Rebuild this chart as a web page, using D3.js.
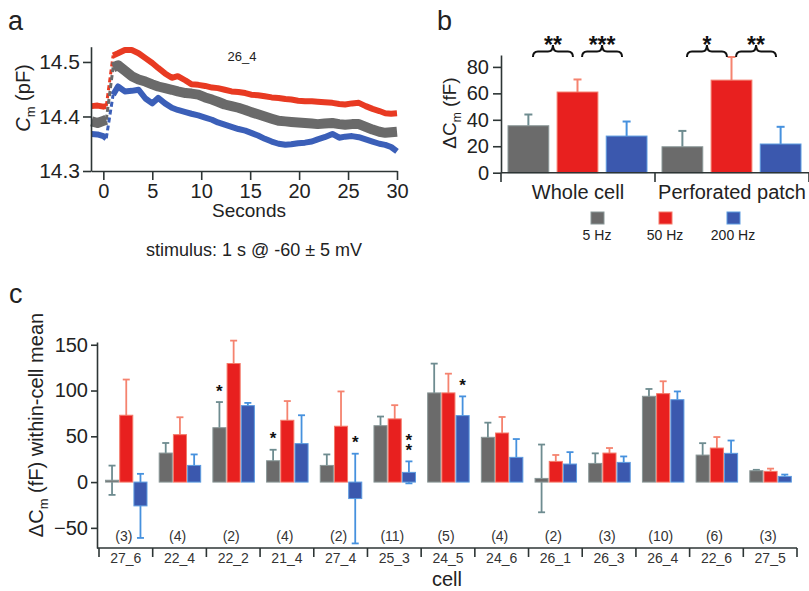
<!DOCTYPE html>
<html>
<head>
<meta charset="utf-8">
<script src="https://cdn.jsdelivr.net/npm/d3@7"></script>
<style>
  body { margin: 0; background: #fff; }
  svg { display: block; font-family: "Liberation Sans", Arial, sans-serif; }
  .axis path, .axis line { stroke: #2d3535; stroke-width: 1.6px; }
  .axis text { fill: #222; font-family: "Liberation Sans", Arial, sans-serif; }
</style>
</head>
<body>
<svg id="fig" width="809" height="591"></svg>
<script>
// ---- panel a: Cm traces (cell 26_4) ----
var traceT = [-1.2, -0.6, 0, 0.3, 1.0, 1.5, 2.2, 2.9, 3.6, 4.3, 5.0, 5.6, 6.3, 7.0, 7.6, 8.4, 9.0, 9.7,
  10.4, 11.1, 11.7, 12.4, 13.1, 13.8, 14.5, 15.1, 15.8, 16.5, 17.2, 17.9, 18.6, 19.2, 19.9, 20.6,
  21.3, 21.9, 22.6, 23.4, 24.1, 24.7, 25.4, 26.1, 26.8, 27.5, 28.2, 28.8, 29.4, 30.0];
var traceRed = [14.419, 14.420, 14.418, 14.419, 14.512, 14.516, 14.522, 14.522, 14.516, 14.507, 14.498,
  14.489, 14.479, 14.471, 14.474, 14.466, 14.459, 14.458, 14.456, 14.453, 14.452, 14.449, 14.446, 14.445,
  14.443, 14.440, 14.439, 14.437, 14.435, 14.434, 14.432, 14.431, 14.429, 14.428, 14.428, 14.427, 14.426,
  14.425, 14.423, 14.422, 14.424, 14.425, 14.419, 14.414, 14.410, 14.406, 14.405, 14.406];
var traceGray = [14.391, 14.388, 14.392, 14.394, 14.490, 14.494, 14.484, 14.474, 14.468, 14.464, 14.459,
  14.455, 14.452, 14.449, 14.446, 14.443, 14.442, 14.440, 14.435, 14.431, 14.427, 14.422, 14.419, 14.416,
  14.412, 14.408, 14.404, 14.400, 14.396, 14.392, 14.391, 14.390, 14.389, 14.388, 14.387, 14.386, 14.387,
  14.388, 14.386, 14.385, 14.386, 14.386, 14.381, 14.376, 14.372, 14.370, 14.371, 14.372];
var traceBlue = [14.368, 14.367, 14.364, 14.360, 14.440, 14.455, 14.446, 14.447, 14.449, 14.433, 14.424,
  14.434, 14.424, 14.416, 14.412, 14.408, 14.405, 14.402, 14.398, 14.394, 14.389, 14.385, 14.381, 14.377,
  14.374, 14.370, 14.365, 14.359, 14.354, 14.350, 14.348, 14.349, 14.351, 14.352, 14.354, 14.358, 14.362,
  14.368, 14.361, 14.363, 14.364, 14.362, 14.358, 14.354, 14.350, 14.348, 14.344, 14.336];
var jumpIndex = 3; // last point before the stimulus step
var timeTicks = [0, 5, 10, 15, 20, 25, 30];
var cmTicks = [14.3, 14.4, 14.5];

// ---- panel b: group means ----
var groups = ["Whole cell", "Perforated patch"];
var freqs = ["5 Hz", "50 Hz", "200 Hz"];
var meanWhole = [35.5, 61, 27.7];
var errWhole = [8.5, 9.5, 11];
var meanPerf = [19.6, 70, 21.7];
var errPerf = [12, 17.5, 13];
var bracketGroup = [0, 0, 1, 1];
var bracketFrom = [0, 1, 0, 1];
var bracketTo = [1, 2, 1, 2];
var bracketStars = ["**", "***", "*", "**"];
var dcTicks = [0, 20, 40, 60, 80];

// ---- panel c: per cell ----
var cells = ["27_6", "22_4", "22_2", "21_4", "27_4", "25_3", "24_5", "24_6", "26_1", "26_3", "26_4", "22_6", "27_5"];
var cellN = [3, 4, 2, 4, 2, 11, 5, 4, 2, 3, 10, 6, 3];
var mean5 = [2, 31.7, 59.4, 23.3, 18.2, 61.6, 97.4, 48.9, 4, 20.4, 93.7, 29.5, 12.4];
var err5 = [16, 11, 28, 12, 12, 10, 32, 16, 37, 11, 8, 13, 1];
var mean50 = [73, 51.8, 129.5, 67.5, 61, 69, 97.4, 53.6, 22.6, 31.7, 96.6, 37.2, 11.7];
var err50 = [39, 19, 25, 21, 38, 15, 21, 17.5, 7, 5.5, 13.5, 12, 3];
var mean200 = [-26, 18.2, 83.5, 42, -18, 10.6, 72.6, 27, 19.7, 21.5, 90, 31.4, 6.2];
var err200 = [35, 12, 3, 31, 49, 12, 21, 20, 13, 6.5, 9, 14, 2];
var starCell = ["22_2", "21_4", "27_4", "25_3", "24_5"];
var starFreq = ["5 Hz", "5 Hz", "200 Hz", "200 Hz", "200 Hz"];
var starCount = [1, 1, 1, 2, 1];
var cellTicks = [-50, 0, 50, 100, 150];

var barFill = ["#6b6b6b", "#e8201f", "#3b58ae"];
var barEdge = ["#8a9898", "#f47a6a", "#5c9be0"];
var errColor = ["#6e8c90", "#f5836f", "#4691de"];
var traceColor = ["#e83a22", "#3b5fb8", "#6a6a6a"];

var svg = d3.select("#fig");

function styleAxis(g, size) {
    g.attr("class", "axis").attr("font-size", null).attr("font-family", null);
    g.selectAll("text").style("font-size", size + "px");
}

function panelLetter(txt, x, y) {
    svg.append("text").attr("x", x).attr("y", y)
        .attr("font-size", 27).attr("fill", "#222").text(txt);
}

function rotLabel(x, y, size) {
    return svg.append("text")
        .attr("transform", "translate(" + x + "," + y + ") rotate(-90)")
        .attr("text-anchor", "middle")
        .attr("font-size", size).attr("fill", "#222");
}

// ================= panel a =================
(function() {
    var x = d3.scaleLinear().domain([-1.26, 30]).range([91, 397]);
    var y = d3.scaleLinear().domain([14.3, 14.528]).range([171, 46.7]);
    var series = [traceRed, traceBlue, traceGray];
    var widths = [6, 6, 10];

    var line = d3.line()
        .x(function(d) { return x(d[0]); })
        .y(function(d) { return y(d[1]); });

    series.forEach(function(vals, s) {
        var pts = traceT.map(function(t, i) { return [t, vals[i]]; });
        var pre = pts.slice(0, jumpIndex + 1);
        var post = pts.slice(jumpIndex + 1);
        svg.append("path").attr("d", line(pre)).attr("fill", "none")
            .attr("stroke", traceColor[s]).attr("stroke-width", widths[s]).attr("stroke-linejoin", "round");
        svg.append("path").attr("d", line(post)).attr("fill", "none")
            .attr("stroke", traceColor[s]).attr("stroke-width", widths[s]).attr("stroke-linejoin", "round");
        // dashed step at stimulus
        svg.append("path").attr("d", line([pre[pre.length - 1], post[0]])).attr("fill", "none")
            .attr("stroke", traceColor[s]).attr("stroke-width", 3).attr("stroke-dasharray", "5,3");
    });

    var ya = svg.append("g").attr("transform", "translate(91,0)")
        .call(d3.axisLeft(y).tickValues(cmTicks).tickFormat(d3.format(".1f")).tickSize(8).tickSizeOuter(0).tickPadding(3));
    styleAxis(ya, 21);
    var xa = svg.append("g").attr("transform", "translate(0,171)")
        .call(d3.axisBottom(x).tickValues(timeTicks).tickSize(9).tickSizeOuter(0).tickPadding(4));
    styleAxis(xa, 20);

    svg.append("text").attr("x", 249).attr("y", 217).attr("text-anchor", "middle")
        .attr("font-size", 19).attr("fill", "#222").text("Seconds");
    svg.append("text").attr("x", 242).attr("y", 61).attr("text-anchor", "middle")
        .attr("font-size", 13).attr("fill", "#222").text("26_4");
    svg.append("text").attr("x", 254).attr("y", 256).attr("text-anchor", "middle")
        .attr("font-size", 18).attr("fill", "#222").text("stimulus: 1 s @ -60 \u00b1 5 mV");

    var lab = rotLabel(30, 98, 20);
    lab.append("tspan").text("C").attr("font-style", "italic");
    lab.append("tspan").text("m").attr("font-size", 13).attr("dy", 5);
    lab.append("tspan").text(" (pF)").attr("dy", -5);

    panelLetter("a", 8, 30);
}());

// ================= panel b =================
(function() {
    var y = d3.scaleLinear().domain([0, 89]).range([172.7, 55]);
    var x0 = d3.scaleBand().domain(groups).range([501, 809]);
    var x1 = d3.scaleBand().domain(freqs).range([7, 146]).paddingInner(0.17);
    var means = [meanWhole, meanPerf];
    var errs = [errWhole, errPerf];

    groups.forEach(function(g, gi) {
        var gx = x0(g);
        freqs.forEach(function(f, fi) {
            var cx = gx + x1(f) + x1.bandwidth() / 2;
            var v = means[gi][fi], e = errs[gi][fi];
            svg.append("line").attr("x1", cx).attr("x2", cx)
                .attr("y1", y(v + e)).attr("y2", y(v))
                .attr("stroke", errColor[fi]).attr("stroke-width", 2);
            svg.append("line").attr("x1", cx - 4).attr("x2", cx + 4)
                .attr("y1", y(v + e)).attr("y2", y(v + e))
                .attr("stroke", errColor[fi]).attr("stroke-width", 2);
            svg.append("rect").attr("x", gx + x1(f)).attr("y", y(v))
                .attr("width", x1.bandwidth()).attr("height", y(0) - y(v))
                .attr("fill", barFill[fi]).attr("stroke", barEdge[fi]).attr("stroke-width", 1);
        });
    });

    // significance braces
    bracketGroup.forEach(function(gi, k) {
        var gx = x0(groups[gi]);
        var a = gx + x1(freqs[bracketFrom[k]]) + x1.bandwidth() / 2;
        var b = gx + x1(freqs[bracketTo[k]]) + x1.bandwidth() / 2;
        var xm = (a + b) / 2, x1b = xm - 20, x2b = xm + 20;
        var yb = 57, ym = 51.5, yt = 45, r = 5;
        var p = d3.path();
        p.moveTo(x1b, yb);
        p.quadraticCurveTo(x1b, ym, x1b + r, ym);
        p.lineTo(xm - r, ym);
        p.quadraticCurveTo(xm, ym, xm, yt);
        p.quadraticCurveTo(xm, ym, xm + r, ym);
        p.lineTo(x2b - r, ym);
        p.quadraticCurveTo(x2b, ym, x2b, yb);
        svg.append("path").attr("d", p.toString()).attr("fill", "none")
            .attr("stroke", "#111").attr("stroke-width", 2);
        svg.append("text").attr("x", xm).attr("y", 53).attr("text-anchor", "middle")
            .attr("font-size", 23).attr("font-weight", "bold").attr("fill", "#111").text(bracketStars[k]);
    });

    var ya = svg.append("g").attr("transform", "translate(501,0)")
        .call(d3.axisLeft(y).tickValues(dcTicks).tickSize(8).tickSizeOuter(0).tickPadding(4));
    styleAxis(ya, 20);

    // category axis with boundary ticks
    svg.append("line").attr("x1", 501).attr("x2", 809).attr("y1", 172.7).attr("y2", 172.7)
        .attr("stroke", "#2d3535").attr("stroke-width", 1.6);
    groups.concat(["end"]).forEach(function(g, i) {
        var tx = i < groups.length ? x0(g) : x0.range()[1];
        svg.append("line").attr("x1", tx).attr("x2", tx).attr("y1", 172.7).attr("y2", 182)
            .attr("stroke", "#2d3535").attr("stroke-width", 1.6);
    });
    groups.forEach(function(g) {
        svg.append("text").attr("x", x0(g) + x0.bandwidth() / 2).attr("y", 199)
            .attr("text-anchor", "middle").attr("font-size", 20).attr("fill", "#222").text(g);
    });

    // legend
    freqs.forEach(function(f, i) {
        var cx = 597 + i * 68;
        svg.append("rect").attr("x", cx - 6).attr("y", 212).attr("width", 13).attr("height", 12)
            .attr("fill", barFill[i]).attr("stroke", barEdge[i]).attr("stroke-width", 1);
        svg.append("text").attr("x", cx).attr("y", 240).attr("text-anchor", "middle")
            .attr("font-size", 14).attr("fill", "#222").text(f);
    });

    var lab = rotLabel(456, 113, 19);
    lab.append("tspan").text("\u0394C");
    lab.append("tspan").text("m").attr("font-size", 12).attr("dy", 5);
    lab.append("tspan").text(" (fF)").attr("dy", -5);

    panelLetter("b", 437, 30);
}());

// ================= panel c =================
(function() {
    var y = d3.scaleLinear().domain([-72, 153]).range([548, 342]);
    var x0 = d3.scaleBand().domain(cells).range([99, 797]);
    var x1 = d3.scaleBand().domain(freqs).range([6.5, 48]).paddingInner(0.08);
    var means = [mean5, mean50, mean200];
    var errs = [err5, err50, err200];

    cells.forEach(function(c, ci) {
        var cx0 = x0(c);
        freqs.forEach(function(f, fi) {
            var v = means[fi][ci], e = errs[fi][ci];
            var bx = cx0 + x1(f), cx = bx + x1.bandwidth() / 2;
            // error bar behind the bar
            svg.append("line").attr("x1", cx).attr("x2", cx)
                .attr("y1", y(v + e)).attr("y2", y(v - e))
                .attr("stroke", errColor[fi]).attr("stroke-width", 1.8);
            [v + e, v - e].forEach(function(ev) {
                svg.append("line").attr("x1", cx - 3.5).attr("x2", cx + 3.5)
                    .attr("y1", y(ev)).attr("y2", y(ev))
                    .attr("stroke", errColor[fi]).attr("stroke-width", 1.8);
            });
            svg.append("rect").attr("x", bx).attr("y", y(Math.max(v, 0)))
                .attr("width", x1.bandwidth()).attr("height", Math.abs(y(v) - y(0)))
                .attr("fill", barFill[fi]).attr("stroke", barEdge[fi]).attr("stroke-width", 1);
        });
        svg.append("text").attr("x", cx0 + x0.bandwidth() / 2 - 2).attr("y", 541)
            .attr("text-anchor", "middle").attr("font-size", 14).attr("fill", "#333").text("(" + cellN[ci] + ")");
        svg.append("text").attr("x", cx0 + x0.bandwidth() / 2).attr("y", 563)
            .attr("text-anchor", "middle").attr("font-size", 14).attr("fill", "#333").text(c);
    });

    // significance stars (stacked when more than one)
    starCell.forEach(function(c, k) {
        var ci = cells.indexOf(c), fi = freqs.indexOf(starFreq[k]);
        var top = y(means[fi][ci] + errs[fi][ci]);
        var cx = x0(c) + x1(starFreq[k]) + x1.bandwidth() / 2;
        var t = svg.append("text").attr("x", cx).attr("y", top - 5.5 - (starCount[k] - 1) * 10)
            .attr("text-anchor", "middle").attr("font-size", 17).attr("font-weight", "bold")
            .attr("fill", "#111");
        for (var s = 0; s < starCount[k]; s++) {
            t.append("tspan").attr("x", cx).attr("dy", s === 0 ? 0 : 10).text("*");
        }
    });

    var ya = svg.append("g").attr("transform", "translate(97,0)")
        .call(d3.axisLeft(y).tickValues(cellTicks).tickSize(6).tickSizeOuter(0).tickPadding(3));
    styleAxis(ya, 20);

    svg.append("line").attr("x1", 97).attr("x2", 797).attr("y1", 548).attr("y2", 548)
        .attr("stroke", "#2d3535").attr("stroke-width", 1.6);
    cells.concat(["end"]).forEach(function(c, i) {
        var tx = i < cells.length ? x0(c) : x0.range()[1];
        svg.append("line").attr("x1", tx).attr("x2", tx).attr("y1", 548).attr("y2", 557)
            .attr("stroke", "#2d3535").attr("stroke-width", 1.6);
    });

    svg.append("text").attr("x", 447).attr("y", 586).attr("text-anchor", "middle")
        .attr("font-size", 20).attr("fill", "#222").text("cell");

    var lab = rotLabel(43, 425, 20);
    lab.append("tspan").text("\u0394C");
    lab.append("tspan").text("m").attr("font-size", 13).attr("dy", 5);
    lab.append("tspan").text(" (fF) within-cell mean").attr("dy", -5);

    panelLetter("c", 9, 303);
}());
</script>
</body>
</html>
